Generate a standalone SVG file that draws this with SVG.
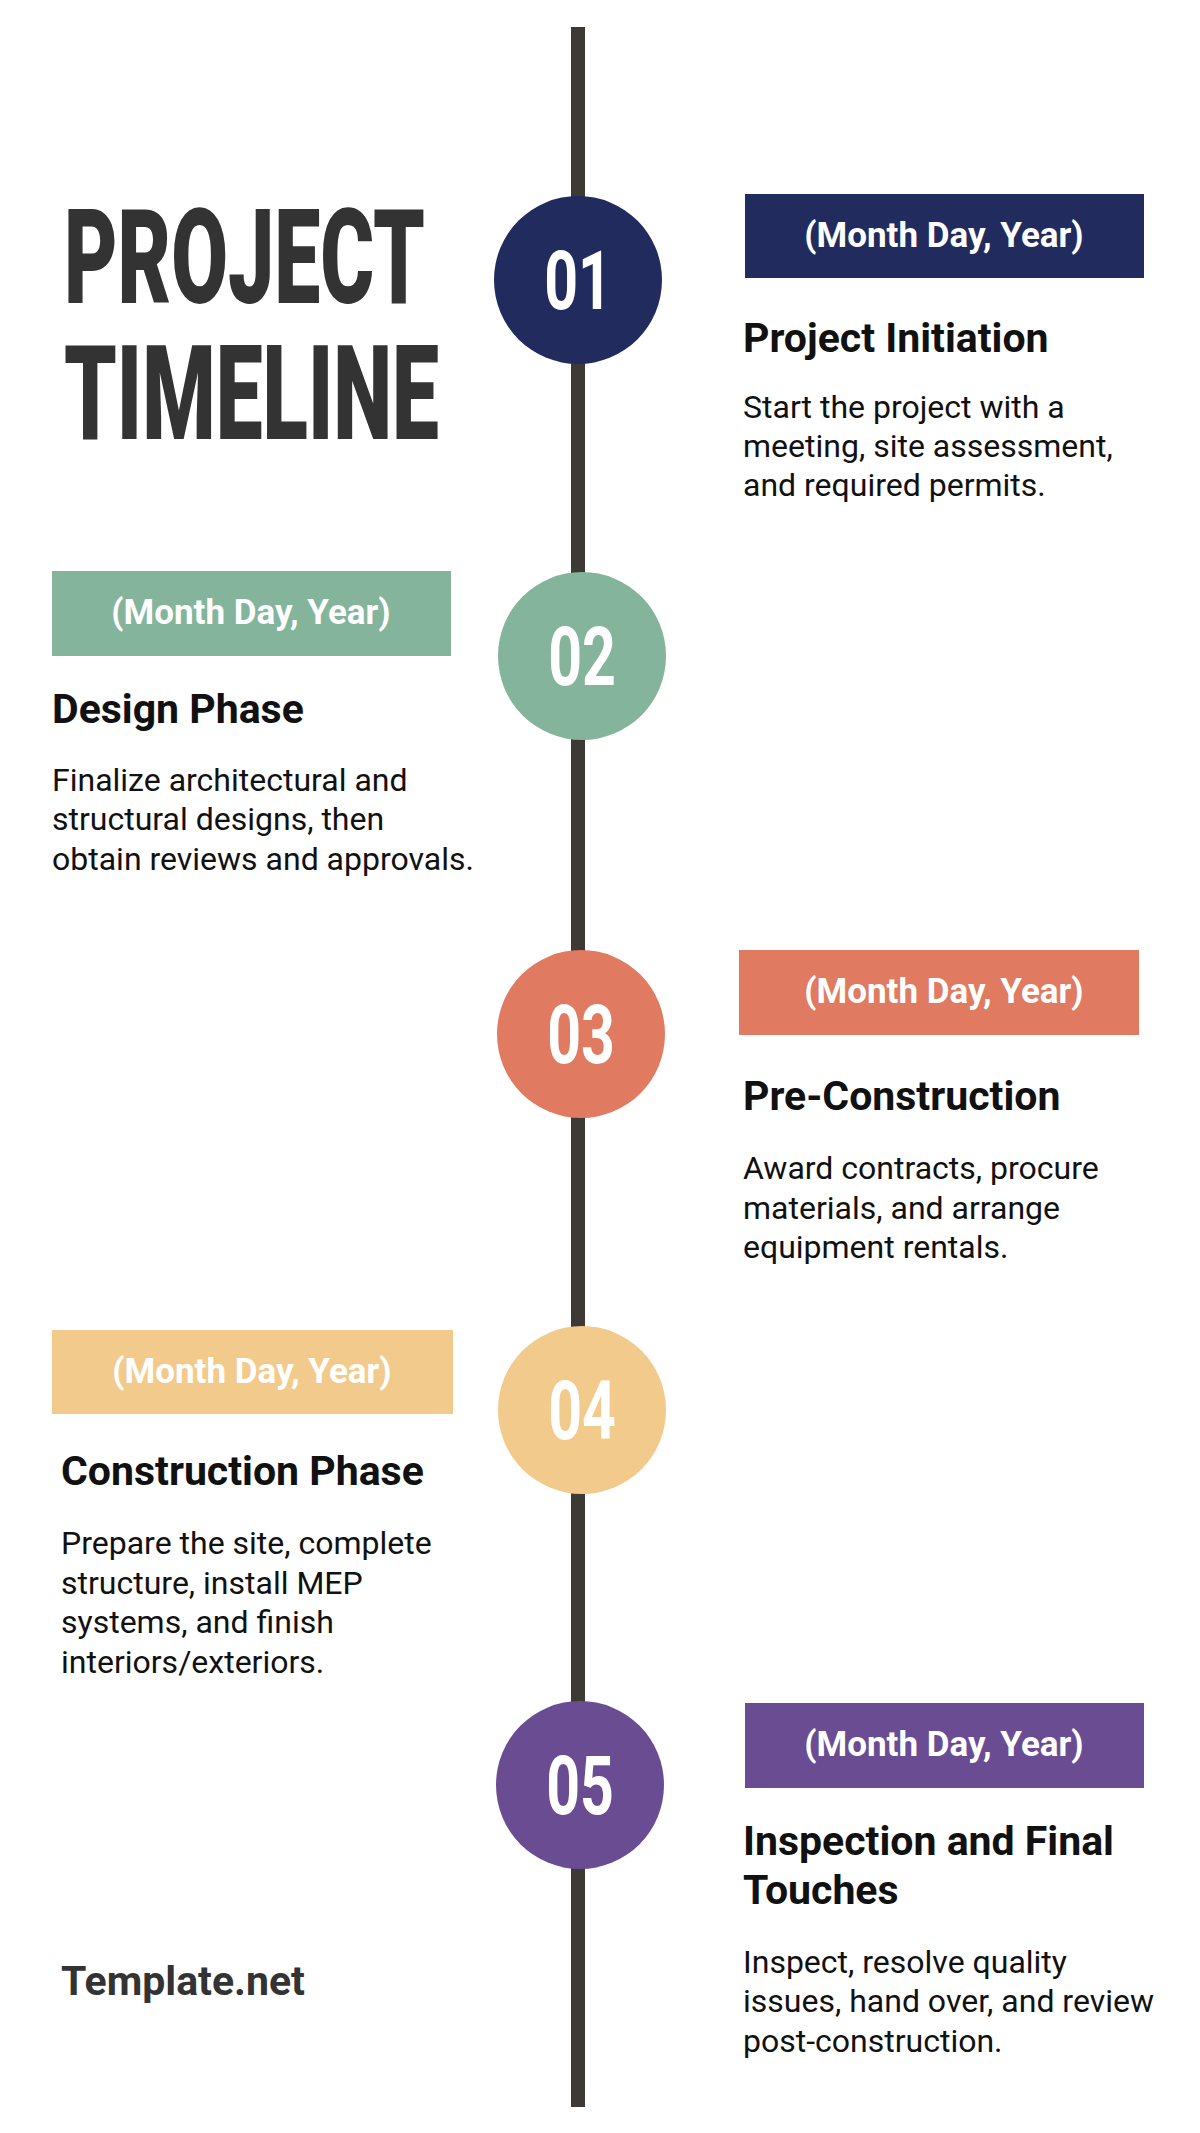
<svg xmlns="http://www.w3.org/2000/svg" width="1200" height="2133" viewBox="0 0 1200 2133">
<style>
.num{font-family:Roboto,"Liberation Sans",sans-serif;font-weight:700;font-size:82px;fill:#fff;text-anchor:middle}
.date{font-family:Roboto,"Liberation Sans",sans-serif;font-weight:700;font-size:35px;fill:#fff;text-anchor:middle}
.ttl{font-family:Roboto,"Liberation Sans",sans-serif;font-weight:700;font-size:41px;fill:#111}
.body{font-family:Roboto,"Liberation Sans",sans-serif;font-size:32px;fill:#111}
.big{font-family:Roboto,"Liberation Sans",sans-serif;font-weight:900;font-size:132px;fill:#333}
</style>
<rect width="1200" height="2133" fill="#fff"/>
<g id="connectors"><line x1="578" y1="27" x2="578" y2="2107" stroke="#3d3a36" stroke-width="14"/></g>
<g id="title">
<text class="big" x="64" y="303" textLength="361" lengthAdjust="spacingAndGlyphs">PROJECT</text>
<text class="big" x="64" y="439" textLength="375" lengthAdjust="spacingAndGlyphs">TIMELINE</text>
</g>
<g id="step1">
<circle cx="578" cy="280" r="84" fill="#212b5e"/>
<text class="num" transform="translate(578,309) scale(0.72,1)">01</text>
<rect x="745" y="194" width="399" height="84" fill="#212b5e"/>
<text class="date" x="944" y="247">(Month Day, Year)</text>
<text class="ttl" x="743" y="352">Project Initiation</text>
<text class="body" x="743" y="418">Start the project with a</text>
<text class="body" x="743" y="457">meeting, site assessment,</text>
<text class="body" x="743" y="496">and required permits.</text>
</g>
<g id="step2">
<circle cx="582" cy="656" r="84" fill="#84b49c"/>
<text class="num" transform="translate(582,685) scale(0.72,1)">02</text>
<rect x="52" y="571" width="399" height="85" fill="#84b49c"/>
<text class="date" x="251" y="624">(Month Day, Year)</text>
<text class="ttl" x="52" y="723">Design Phase</text>
<text class="body" x="52" y="791">Finalize architectural and</text>
<text class="body" x="52" y="830">structural designs, then</text>
<text class="body" x="52" y="870">obtain reviews and approvals.</text>
</g>
<g id="step3">
<circle cx="581" cy="1034" r="84" fill="#e07a60"/>
<text class="num" transform="translate(581,1063) scale(0.72,1)">03</text>
<rect x="739" y="950" width="400" height="85" fill="#e07a60"/>
<text class="date" x="944" y="1003">(Month Day, Year)</text>
<text class="ttl" x="743" y="1110">Pre-Construction</text>
<text class="body" x="743" y="1179">Award contracts, procure</text>
<text class="body" x="743" y="1219">materials, and arrange</text>
<text class="body" x="743" y="1258">equipment rentals.</text>
</g>
<g id="step4">
<circle cx="582" cy="1410" r="84" fill="#f2cb8c"/>
<text class="num" transform="translate(582,1439) scale(0.72,1)">04</text>
<rect x="52" y="1330" width="401" height="84" fill="#f2cb8c"/>
<text class="date" x="252" y="1383">(Month Day, Year)</text>
<text class="ttl" x="61" y="1485">Construction Phase</text>
<text class="body" x="61" y="1554">Prepare the site, complete</text>
<text class="body" x="61" y="1594">structure, install MEP</text>
<text class="body" x="61" y="1633">systems, and finish</text>
<text class="body" x="61" y="1673">interiors/exteriors.</text>
</g>
<g id="step5">
<circle cx="580" cy="1785" r="84" fill="#6a4c93"/>
<text class="num" transform="translate(580,1814) scale(0.72,1)">05</text>
<rect x="745" y="1703" width="399" height="85" fill="#6a4c93"/>
<text class="date" x="944" y="1756">(Month Day, Year)</text>
<text class="ttl" x="743" y="1855">Inspection and Final</text>
<text class="ttl" x="743" y="1904">Touches</text>
<text class="body" x="743" y="1973">Inspect, resolve quality</text>
<text class="body" x="743" y="2012">issues, hand over, and review</text>
<text class="body" x="743" y="2052">post-construction.</text>
</g>
<g id="brand"><text x="61" y="1995" font-family="Roboto,'Liberation Sans',sans-serif" font-weight="700" font-size="41" fill="#333">Template.net</text></g>
</svg>
